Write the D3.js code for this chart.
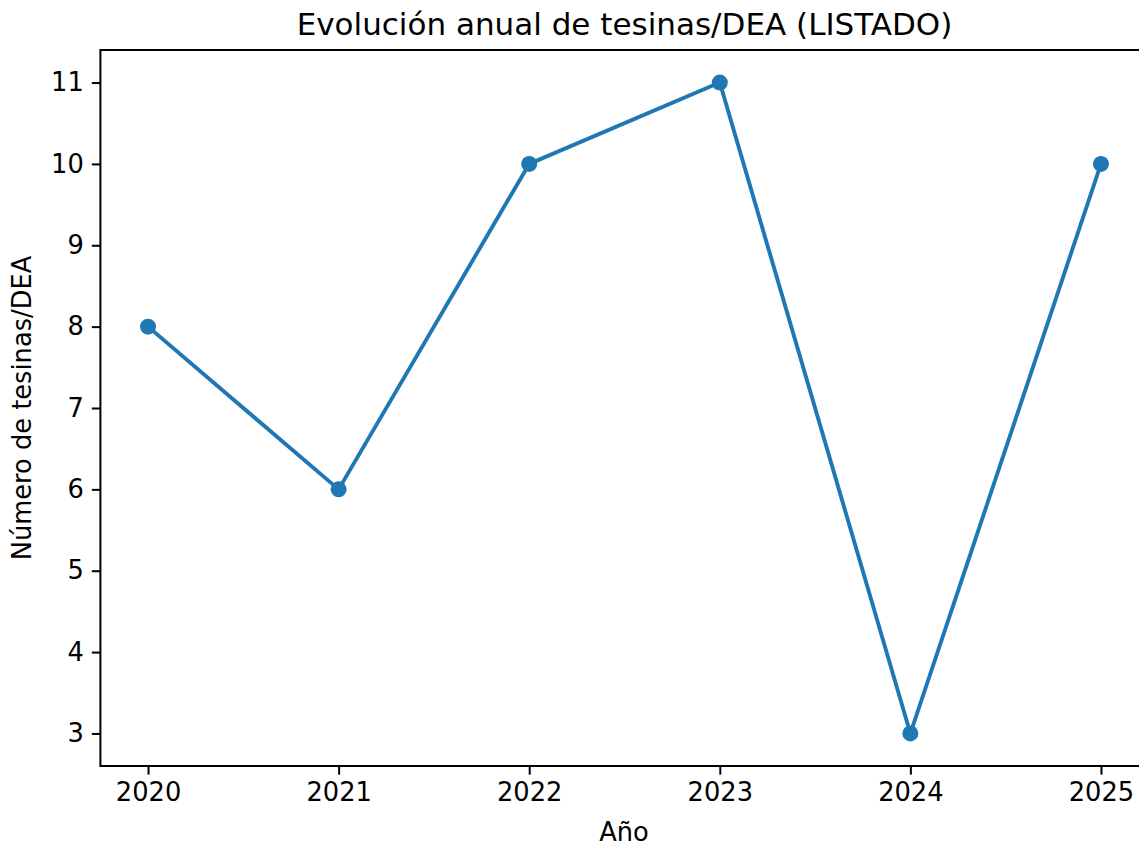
<!DOCTYPE html>
<html>
<head>
	<meta charset="UTF-8">
	<title>Evolución anual</title>
	<style>
		body { margin: 0; background: #fff; }
		text { font-family: "DejaVu Sans", sans-serif; fill: #000; }
	</style>
</head>
<body>
<script src="https://d3js.org/d3.v7.min.js"></script>
<script>
'use strict';

var years = [2020, 2021, 2022, 2023, 2024, 2025];
var counts = [8, 6, 10, 11, 3, 10];
var yTicks = [3, 4, 5, 6, 7, 8, 9, 10, 11];

var width = 1139, height = 846;
var margin = {top: 50, right: -9.6, bottom: 80, left: 100.4};

var svg = d3.select("body").append("svg")
	.attr("width", width)
	.attr("height", height);

var x = d3.scaleLinear()
	.domain([2019.75, 2025.25])
	.range([margin.left, width - margin.right]);

var y = d3.scaleLinear()
	.domain([2.6, 11.4])
	.range([height - margin.bottom, margin.top]);

// axes
var xAxis = svg.append("g")
	.attr("transform", "translate(0," + (height - margin.bottom) + ")")
	.call(d3.axisBottom(x).tickValues(years).tickFormat(d3.format("d")).tickSize(8.6).tickPadding(8));

var yAxis = svg.append("g")
	.attr("transform", "translate(" + margin.left + ",0)")
	.call(d3.axisLeft(y).tickValues(yTicks).tickSize(8.6).tickPadding(8));

[xAxis, yAxis].forEach(function(a){
	a.select(".domain").remove();
	a.selectAll(".tick line").attr("stroke", "#000").attr("stroke-width", 2);
	a.selectAll(".tick text").style("font-size", "25.7px").style("font-family", "DejaVu Sans");
});

// spines (left, top, bottom; right is outside the picture)
svg.append("path")
	.attr("d", "M" + (width + 20) + "," + y(11.4) + "H" + x(2019.75) + "V" + y(2.6) + "H" + (width + 20))
	.attr("fill", "none")
	.attr("stroke", "#000")
	.attr("stroke-width", 2)
	.attr("stroke-linecap", "square");

var data = years.map(function(d, i){ return {year: d, value: counts[i]}; });

svg.append("path")
	.datum(data)
	.attr("fill", "none")
	.attr("stroke", "#1f77b4")
	.attr("stroke-width", 3.9)
	.attr("stroke-linejoin", "round")
	.attr("d", d3.line()
		.x(function(d){ return x(d.year); })
		.y(function(d){ return y(d.value); }));

svg.selectAll("circle.pt")
	.data(data)
	.enter().append("circle")
	.attr("class", "pt")
	.attr("cx", function(d){ return x(d.year); })
	.attr("cy", function(d){ return y(d.value); })
	.attr("r", 8)
	.attr("fill", "#1f77b4");

svg.append("text")
	.attr("x", 624.5)
	.attr("y", 35)
	.attr("text-anchor", "middle")
	.style("font-size", "31px")
	.text("Evolución anual de tesinas/DEA (LISTADO)");

svg.append("text")
	.attr("x", 624)
	.attr("y", 841)
	.attr("text-anchor", "middle")
	.style("font-size", "25.7px")
	.text("Año");

svg.append("text")
	.attr("transform", "translate(31," + ((y(2.6) + y(11.4)) / 2) + ") rotate(-90)")
	.attr("text-anchor", "middle")
	.style("font-size", "25.7px")
	.text("Número de tesinas/DEA");
</script>
</body>
</html>
